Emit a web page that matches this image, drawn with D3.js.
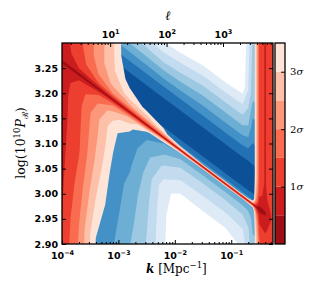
<!DOCTYPE html>
<html>
<head>
<meta charset="utf-8">
<script src="https://cdn.jsdelivr.net/npm/d3@7/dist/d3.min.js"></script>
<style>
  body { margin: 0; background: #fff; }
  svg { display: block; }
</style>
</head>
<body>
<svg id="chart" width="312" height="288"></svg>
<script>
// Grid columns: log10 of k [Mpc^-1]
var logK = [-4.0, -3.7, -3.4, -3.1, -2.8, -2.5, -2.2, -1.9, -1.5, -1.1, -0.8, -0.7, -0.62, -0.56, -0.5, -0.4, -0.25];

// Grid rows: shift of log(10^10 P_R) away from the best-fit power law
var shift = [-0.37, -0.3, -0.22, -0.15, -0.1, -0.06, -0.03, -0.012, -0.004, 0, 0.004, 0.012, 0.03, 0.06, 0.1, 0.15, 0.22, 0.3, 0.36];

// Best-fit power law, read at two wavenumbers
var lineK = [1e-4, 0.3];
var lineP = [3.263, 2.971];

// Red field (sigma), one row per shift, one value per logK column
var sigmaGrid = [
  [1.1, 2.1, 3.6, 4.3, 5, 5, 6, 6, 7, 7, 7, 5, 4.5, 3.0, 1.8, 1.4, 1.6],
  [1.0, 2.0, 3.5, 4.1, 5, 5, 6, 6, 7, 7, 7, 5, 4.5, 3.0, 1.8, 1.4, 1.6],
  [0.9, 1.7, 3.0, 3.9, 4.9, 5, 6, 6, 7, 7, 7, 5, 4.5, 3.0, 1.8, 1.4, 1.6],
  [0.85, 1.45, 2.6, 3.7, 4.7, 5, 6, 6, 7, 7, 7, 5, 4.5, 3.0, 1.8, 1.4, 1.6],
  [0.8, 1.4, 2.4, 3.45, 4.5, 5, 6, 6, 7, 7, 7, 5, 4.5, 3.0, 1.8, 1.4, 1.6],
  [0.8, 1.35, 2.3, 3.3, 4.0, 4.8, 6, 6, 7, 7, 7, 5, 4.5, 2.9, 1.5, 1.2, 1.5],
  [0.75, 1.25, 1.9, 2.8, 3.3, 4.4, 5.5, 6, 7, 7, 7, 5, 4.5, 2.6, 1.0, 0.9, 1.3],
  [0.65, 1.0, 1.4, 2.0, 2.6, 3.4, 4.0, 5, 6, 6, 6, 5, 4.5, 2.0, 0.7, 0.7, 1.2],
  [0.6, 0.6, 0.8, 1.1, 1.4, 1.6, 2.5, 3.0, 3.2, 3.2, 3.2, 3.2, 3.0, 1.2, 0.4, 0.5, 1.2],
  [0.1, 0.15, 0.2, 0.25, 0.3, 0.3, 0.3, 0.3, 0.3, 0.3, 0.3, 0.3, 0.3, 0.3, 0.2, 0.4, 1.2],
  [0.6, 0.6, 0.8, 1.1, 1.3, 1.5, 2.0, 2.8, 3.2, 3.2, 3.2, 3.2, 3.0, 1.2, 0.4, 0.5, 1.2],
  [0.65, 1.0, 1.4, 2.0, 2.3, 2.6, 3.2, 4.5, 6, 6, 6, 5, 4.5, 2.0, 0.7, 0.7, 1.2],
  [0.75, 1.2, 1.9, 2.6, 3.2, 3.6, 4.0, 6, 7, 7, 7, 5, 4.5, 2.6, 1.1, 0.9, 1.3],
  [0.8, 1.3, 2.1, 2.9, 3.7, 4.6, 5.5, 6, 7, 7, 7, 5, 4.5, 2.9, 1.3, 0.95, 1.4],
  [0.8, 1.3, 2.1, 2.9, 4.1, 5, 6, 6, 7, 7, 7, 5, 4.5, 2.9, 1.3, 0.95, 1.4],
  [0.8, 1.3, 2.1, 2.85, 4.2, 5, 6, 6, 7, 7, 7, 5, 4.5, 2.9, 1.3, 0.95, 1.4],
  [0.8, 1.3, 2.1, 2.85, 4.2, 5, 6, 6, 7, 7, 7, 5, 4.5, 2.9, 1.3, 0.95, 1.4],
  [0.8, 1.3, 2.1, 2.85, 4.2, 5, 6, 6, 7, 7, 7, 5, 4.5, 2.9, 1.3, 0.95, 1.4],
  [0.8, 1.3, 2.1, 2.85, 4.2, 5, 6, 6, 7, 7, 7, 5, 4.5, 2.9, 1.3, 0.95, 1.4]
];

// Blue field (level), same layout
var blueGrid = [
  [5.5, 5.5, 5.5, 4.9, 3.5, 2.5, 0.9, 0, 0, 0, 1.1, 2.4, 3.9, 3.9, 3.9, 3.9, 3.9],
  [5.5, 5.5, 5.5, 5.0, 3.8, 2.7, 1.0, 0, 0, 0, 1.1, 2.4, 3.9, 3.9, 3.9, 3.9, 3.9],
  [5.5, 5.5, 5.5, 5.4, 4.3, 3.0, 1.1, 0, 0, 0, 1.1, 2.4, 3.9, 3.9, 3.9, 3.9, 3.9],
  [5.5, 5.5, 5.5, 5.6, 4.7, 3.3, 1.2, 0, 0, 0, 1.1, 2.4, 3.9, 3.9, 3.9, 3.9, 3.9],
  [5.5, 5.5, 5.5, 5.7, 5.2, 3.7, 1.4, 0.5, 0.6, 0.6, 1.2, 2.5, 3.9, 3.9, 3.9, 3.9, 3.9],
  [5.5, 5.5, 5.5, 5.8, 5.6, 4.3, 2.8, 2.0, 1.9, 1.9, 2.1, 2.8, 4.0, 4.0, 4.0, 4.0, 4.0],
  [5.5, 5.5, 5.5, 5.8, 5.8, 5.0, 4.2, 3.2, 3.1, 3.1, 3.2, 3.5, 4.3, 4.3, 4.3, 4.3, 4.3],
  [5.5, 5.5, 5.5, 5.8, 5.8, 5.5, 5.0, 4.4, 4.3, 4.3, 4.3, 4.4, 4.8, 4.8, 4.8, 4.8, 4.8],
  [5.5, 5.5, 5.5, 5.8, 5.8, 5.6, 5.4, 5.2, 5.2, 5.2, 5.2, 5.2, 5.3, 5.3, 5.3, 5.3, 5.3],
  [5, 5, 5, 5, 5, 5, 5, 5, 5, 5, 5, 5, 5, 5, 5, 5, 5],
  [5, 5, 5, 5, 5, 5, 5, 5, 5, 5, 5, 5.2, 5.2, 5.2, 5.2, 5.2, 5.2],
  [6.5, 6.5, 6.5, 6.5, 6.5, 6.5, 6.5, 6.5, 6.5, 6.5, 6.5, 6.5, 6.5, 6.5, 6.5, 6.5, 6.5],
  [7.5, 7.5, 7.5, 7.5, 7.5, 7.5, 7.5, 7.5, 7.5, 7.5, 7.5, 7.5, 7.4, 7.4, 7.4, 7.4, 7.4],
  [7.8, 7.8, 7.8, 7.8, 7.8, 7.8, 7.8, 7.8, 7.8, 7.8, 7.8, 7.8, 7.6, 7.6, 7.6, 7.6, 7.6],
  [6.1, 6.1, 6.1, 6.1, 6.1, 6.1, 6.1, 6.1, 6.1, 6.1, 6.1, 6.2, 6.3, 6.3, 6.3, 6.3, 6.3],
  [3.6, 3.6, 3.6, 3.6, 3.3, 3.2, 3.0, 3.2, 3.6, 3.6, 3.6, 4.0, 5.6, 5.6, 5.6, 5.6, 5.6],
  [0.1, 0.1, 0.1, 0.1, -0.3, -0.5, -0.5, -0.3, 0.1, 0.1, 0.3, 2.0, 3.6, 3.6, 3.6, 3.6, 3.6],
  [0, 0, 0, 0, 0, 0, 0, 0, 0, 0, 0, 1.6, 3.2, 3.2, 3.2, 3.2, 3.2],
  [0, 0, 0, 0, 0, 0, 0, 0, 0, 0, 0, 1.5, 3.0, 3.0, 3.0, 3.0, 3.0]
];

var kRange = [1e-4, 0.55];
var pRange = [2.90, 3.30];
var kTicks = [1e-4, 1e-3, 1e-2, 1e-1];
var ellTicks = [10, 100, 1000];
var pTicks = [2.90, 2.95, 3.00, 3.05, 3.10, 3.15, 3.20, 3.25];
var sigmaLevels = [0, 0.5, 1, 1.5, 2, 2.5, 3, 3.5];
var sigmaTicks = [1, 2, 3];
var blueLevels = [1, 2, 3, 4, 5, 6, 7];
var ellPerK = 14000;  // l ~ k * distance to last scattering [Mpc]


// Layout
var plot = {x0: 62, x1: 273, y0: 43, y1: 244};
var bar = {x0: 275, x1: 285};
var svg = d3.select('#chart');

var x = d3.scaleLog().domain(kRange).range([plot.x0, plot.x1]);
var y = d3.scaleLinear().domain(pRange).range([plot.y1, plot.y0]);
var ell = d3.scaleLog().domain(kRange.map(function(k) { return k * ellPerK; })).range([plot.x0, plot.x1]);
var fit = d3.scaleLog().domain(lineK).range(lineP);
var col = d3.scaleLinear().domain(d3.range(logK.length)).range(logK).clamp(true);
var row = d3.scaleLinear().domain(d3.range(shift.length)).range(shift).clamp(true);
var cb = d3.scaleLinear().domain(d3.extent(sigmaLevels)).range([plot.y1, plot.y0]);

var red = d3.scaleSequential(d3.interpolateReds).domain([3.63, -0.21]);
var blue = d3.scaleSequential(d3.interpolateBlues).domain([0.5, 8.5]);


// Contours: grid index -> (k, P) -> pixels
var toPlot = d3.geoTransform({
  point: function(cx, cy) {
    var k = Math.pow(10, col(cx - 0.5));
    this.stream.point(x(k), y(fit(k) + row(cy - 0.5)));
  }
});
var path = d3.geoPath(toPlot);

var n = logK.length, m = shift.length;
var blueShapes = d3.contours().size([n, m]).thresholds(blueLevels)(d3.merge(blueGrid));
var redShapes = d3.contours().size([n, m])
  .thresholds(sigmaLevels.slice(1).map(function(s) { return -s; }))
  (d3.merge(sigmaGrid).map(function(v) { return -v; }));

svg.append('clipPath').attr('id', 'clip').append('rect')
  .attr('x', plot.x0).attr('y', plot.y0)
  .attr('width', plot.x1 - plot.x0).attr('height', plot.y1 - plot.y0);

var field = svg.append('g').attr('clip-path', 'url(#clip)');

field.selectAll('path.blue').data(blueShapes).enter().append('path')
  .attr('class', 'blue')
  .attr('d', path)
  .attr('fill', function(c) { return blue(c.value + 0.5); });

field.selectAll('path.red').data(redShapes).enter().append('path')
  .attr('class', 'red')
  .attr('d', path)
  .attr('fill', function(c) { return red(-c.value - 0.25); });


// Axes
function isPower(v) { return Math.abs(Math.log10(v) - Math.round(Math.log10(v))) < 1e-6; }

function styleAxis(g) {
  g.select('.domain').remove();
  g.attr('font-family', 'DejaVu Sans').attr('font-size', 9.5).attr('font-weight', 'bold');
  g.selectAll('.tick line').attr('stroke', '#000');
}

function powerLabels(g) {
  g.selectAll('.tick text').each(function(d) {
    var t = d3.select(this).text(null);
    t.append('tspan').text('10');
    t.append('tspan').attr('dy', -4).attr('font-size', 6.5)
      .text(String(Math.round(Math.log10(d))).replace('-', '\u2212'));
  });
}

// bottom: k
svg.append('g').attr('transform', 'translate(0,' + plot.y1 + ')')
  .call(d3.axisBottom(x).tickValues(kTicks).tickSize(-4).tickPadding(8))
  .call(styleAxis).call(powerLabels);
svg.append('g').attr('transform', 'translate(0,' + plot.y1 + ')')
  .call(d3.axisBottom(x).tickValues(x.ticks().filter(function(v) { return !isPower(v); })).tickSize(-2).tickFormat(''))
  .call(styleAxis);

// top: l
svg.append('g').attr('transform', 'translate(0,' + plot.y0 + ')')
  .call(d3.axisTop(ell).tickValues(ellTicks).tickSize(-4).tickPadding(5))
  .call(styleAxis).call(powerLabels);
svg.append('g').attr('transform', 'translate(0,' + plot.y0 + ')')
  .call(d3.axisTop(ell).tickValues(ell.ticks().filter(function(v) { return !isPower(v); })).tickSize(-2).tickFormat(''))
  .call(styleAxis);

// left and right: log(10^10 P_R)
svg.append('g').attr('transform', 'translate(' + plot.x0 + ',0)')
  .call(d3.axisLeft(y).tickValues(pTicks).tickFormat(d3.format('.2f')).tickSize(-4).tickPadding(4))
  .call(styleAxis);
svg.append('g').attr('transform', 'translate(' + plot.x1 + ',0)')
  .call(d3.axisRight(y).tickValues(pTicks).tickFormat('').tickSize(-4))
  .call(styleAxis);

svg.append('rect')
  .attr('x', plot.x0).attr('y', plot.y0)
  .attr('width', plot.x1 - plot.x0).attr('height', plot.y1 - plot.y0)
  .attr('fill', 'none').attr('stroke', '#000').attr('stroke-width', 1.3);


// Colorbar
svg.append('g').selectAll('rect').data(d3.pairs(sigmaLevels)).enter().append('rect')
  .attr('x', bar.x0).attr('width', bar.x1 - bar.x0)
  .attr('y', function(d) { return cb(d[1]); })
  .attr('height', function(d) { return cb(d[0]) - cb(d[1]); })
  .attr('fill', function(d) { return red((d[0] + d[1]) / 2); });

svg.append('g').attr('transform', 'translate(' + bar.x1 + ',0)')
  .call(d3.axisRight(cb).tickValues(sigmaTicks).tickSize(-4).tickPadding(5))
  .call(styleAxis)
  .call(function(g) {
    g.attr('font-family', 'DejaVu Serif').attr('font-weight', 'normal').attr('font-size', 10);
    g.selectAll('.tick text').each(function(d) {
      var t = d3.select(this).text(null);
      t.append('tspan').text(d);
      t.append('tspan').attr('font-style', 'italic').text('\u03c3');
    });
  });

svg.append('rect')
  .attr('x', bar.x0).attr('y', plot.y0)
  .attr('width', bar.x1 - bar.x0).attr('height', plot.y1 - plot.y0)
  .attr('fill', 'none').attr('stroke', '#000').attr('stroke-width', 1.3);


// Axis titles
svg.append('text')
  .attr('x', 168).attr('y', 20)
  .attr('text-anchor', 'middle')
  .attr('font-family', 'DejaVu Serif').attr('font-style', 'italic').attr('font-size', 13)
  .text('\u2113');

var xlab = svg.append('text')
  .attr('x', 146).attr('y', 273)
  .attr('font-family', 'DejaVu Serif').attr('font-size', 12);
xlab.append('tspan').attr('font-style', 'italic').attr('font-weight', 'bold').text('k');
xlab.append('tspan').text(' [Mpc');
xlab.append('tspan').attr('dy', -5).attr('font-size', 8.5).text('\u22121');
xlab.append('tspan').attr('dy', 5).text(']');

var ylab = svg.append('text')
  .attr('transform', 'translate(25,143) rotate(-90)')
  .attr('text-anchor', 'middle')
  .attr('font-family', 'DejaVu Serif').attr('font-size', 12.5);
ylab.append('tspan').text('log(10');
ylab.append('tspan').attr('dy', -5).attr('font-size', 8.5).text('10');
ylab.append('tspan').attr('dy', 5).attr('font-style', 'italic').text('P');
ylab.append('tspan').attr('dy', 3).attr('font-size', 8.5).text('\u211b');
ylab.append('tspan').attr('dy', -3).text(')');
</script>
</body>
</html>
